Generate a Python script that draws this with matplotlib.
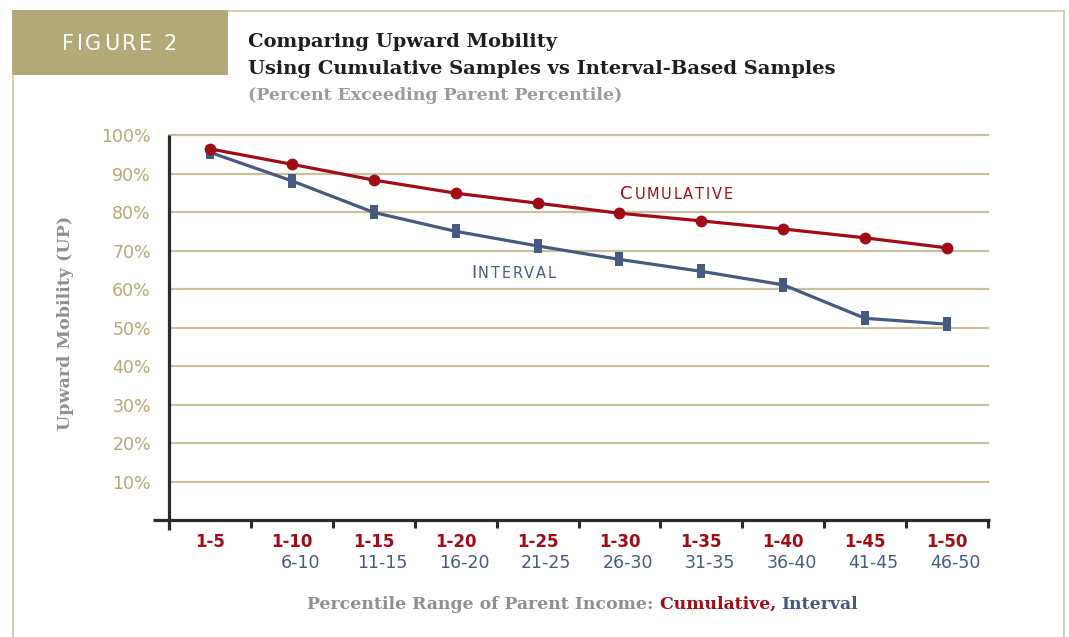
import matplotlib
matplotlib.use("Agg")
import matplotlib.pyplot as plt
from matplotlib.patches import Rectangle
from matplotlib.lines import Line2D

# data
cum_labels = ["1-5", "1-10", "1-15", "1-20", "1-25", "1-30", "1-35", "1-40", "1-45", "1-50"]
int_labels = ["", "6-10", "11-15", "16-20", "21-25", "26-30", "31-35", "36-40", "41-45", "46-50"]
cumulative = [96.4, 92.4, 88.3, 84.9, 82.3, 79.7, 77.7, 75.6, 73.3, 70.7]
interval = [95.5, 88.1, 79.9, 75.0, 71.2, 67.7, 64.6, 61.1, 52.4, 50.9]
yticks = [10, 20, 30, 40, 50, 60, 70, 80, 90, 100]

RED = "#a00d16"
BLUE = "#47597f"
TAN = "#b3a978"
GRID = "#c9c0a0"
GRAY = "#8f8f8f"
AXC = "#2b2b2b"

W, H = 1069, 637
fig = plt.figure(figsize=(W / 100, H / 100), dpi=100)
fig.patch.set_facecolor("white")

def fx(px):
    return px / W

def fy(py):
    return 1 - py / H

# frame and the "FIGURE 2" box
fig.add_artist(Rectangle((fx(12), fy(75)), fx(216), 65 / H, transform=fig.transFigure,
                         facecolor=TAN, edgecolor="none"))
fig.add_artist(Line2D([fx(228), fx(1064)], [fy(10.5), fy(10.5)], transform=fig.transFigure,
                      color="#cfc7a8", lw=1.2))
fig.add_artist(Line2D([fx(1064), fx(1064)], [fy(10.5), 0], transform=fig.transFigure,
                      color="#cfc7a8", lw=1.2))
fig.add_artist(Line2D([fx(13), fx(13)], [fy(75), 0], transform=fig.transFigure,
                      color="#cfc7a8", lw=1.2))

serif = "DejaVu Serif"
fig.text(fx(248), fy(42), "Comparing Upward Mobility", fontsize=14, fontweight="bold",
         fontfamily=serif, color="#1e1e1e", va="center")
fig.text(fx(248), fy(69), "Using Cumulative Samples vs Interval-Based Samples", fontsize=14,
         fontweight="bold", fontfamily=serif, color="#1e1e1e", va="center")
fig.text(fx(248), fy(96), "(Percent Exceeding Parent Percentile)", fontsize=12.5,
         fontweight="bold", fontfamily=serif, color="#9a9a9a", va="center")

# axes: x 169..988 px, y 0% at 520, 100% at 135
ax = fig.add_axes([fx(169), fy(520.2), fx(819), 385.2 / H])
ax.set_xlim(0, 10)
ax.set_ylim(0, 100)
for s in ax.spines.values():
    s.set_visible(False)

for v in yticks:
    ax.axhline(v, color=GRID, lw=1.6, zorder=1, clip_on=False)

x = [i + 0.5 for i in range(len(cumulative))]
rect = [(-0.6, -1), (0.6, -1), (0.6, 1), (-0.6, 1)]
ax.plot(x, interval, color=BLUE, lw=2.3, marker=rect, markersize=9.5, mew=0, zorder=3)
ax.plot(x, cumulative, color=RED, lw=2.3, marker="o", markersize=8.5, mew=0, zorder=4)

# axis lines extending past the corner
ax.plot([0, 0], [-2.6, 100], color=AXC, lw=2.3, clip_on=False, zorder=5, solid_capstyle="butt")
ax.plot([-0.2, 10.02], [0, 0], color=AXC, lw=2.3, clip_on=False, zorder=5, solid_capstyle="butt")
ax.set_xticks(range(1, 11))
ax.tick_params(axis="x", direction="out", length=5.5, width=2.2, color=AXC, labelbottom=False)
ax.set_yticks(yticks)
ax.set_yticklabels([f"{v}%" for v in yticks], fontsize=12.5, color=TAN, fontfamily="DejaVu Sans")
ax.tick_params(axis="y", length=0, pad=13)

for i, (c, t) in enumerate(zip(cum_labels, int_labels)):
    ax.annotate(c, (i + 0.5, 0), xytext=(0, -15.5), textcoords="offset points", ha="center",
                va="center", fontsize=12, color=RED, fontweight="bold", annotation_clip=False)
    if t:
        ax.annotate(t, (i + 0.5, 0), xytext=(6, -30.5), textcoords="offset points", ha="center",
                    va="center", fontsize=12.5, color=BLUE, annotation_clip=False)

fig.canvas.draw()
r = fig.canvas.get_renderer()

def pieces(x0, y0, parts, track=0, **kw):
    # draw text pieces one after another (optionally letter by letter with extra tracking)
    xp = x0
    for txt, col, size in parts:
        chunks = list(txt) if track else [txt]
        for ch in chunks:
            t = fig.text(fx(xp), fy(y0), ch, color=col, fontsize=size, va="baseline", **kw)
            if ch == " ":
                xp += size * 0.45
            else:
                xp += t.get_window_extent(r).width
            xp += track
    return xp

pieces(62, 50, [("FIGURE 2", "white", 15)], track=2.6, fontfamily="DejaVu Sans")
pieces(471, 278, [("I", BLUE, 13), ("NTERVAL", BLUE, 10.5)], track=1.8, fontfamily="DejaVu Sans")
pieces(620, 199, [("C", RED, 13), ("UMULATIVE", RED, 10.5)], track=1.8, fontfamily="DejaVu Sans")

pieces(307, 609, [("Percentile Range of Parent Income: ", GRAY, 12.4),
                  ("Cumulative, ", RED, 12.4), ("Interval", BLUE, 12.4)],
       fontfamily=serif, fontweight="bold")

fig.text(fx(65), fy(323), "Upward Mobility (UP)", rotation=90, fontsize=12.6, fontweight="bold",
         fontfamily=serif, color=GRAY, ha="center", va="center")

fig.savefig("out.png", dpi=100, facecolor="white")
